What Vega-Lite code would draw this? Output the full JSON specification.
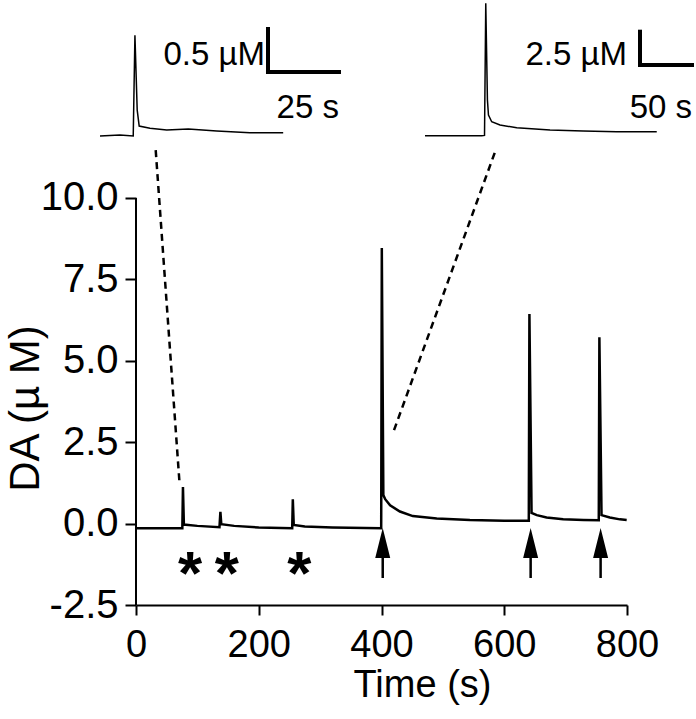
{
  "$schema": "https://vega.github.io/schema/vega-lite/v6.json",
  "width": 491,
  "height": 605,
  "autosize": {"type": "none"},
  "padding": {"left": 136, "top": 0, "right": 69, "bottom": 114},
  "background": "white",
  "config": {"view": {"stroke": null}, "font": "Liberation Sans"},
  "datasets": {
    "trace": [
      {"t": 0, "v": -0.14}, {"t": 40, "v": -0.14}, {"t": 75.5, "v": -0.14}, {"t": 76.5, "v": 1.12},
      {"t": 78, "v": -0.03}, {"t": 100, "v": -0.07}, {"t": 136, "v": -0.11}, {"t": 137.5, "v": 0.36},
      {"t": 139, "v": -0.02}, {"t": 160, "v": -0.07}, {"t": 200, "v": -0.12}, {"t": 254.5, "v": -0.14},
      {"t": 255.5, "v": 0.75}, {"t": 257, "v": -0.04}, {"t": 275, "v": -0.09}, {"t": 320, "v": -0.12},
      {"t": 399.5, "v": -0.14}, {"t": 400.5, "v": 8.46}, {"t": 403, "v": 0.88}, {"t": 406, "v": 0.75},
      {"t": 414, "v": 0.56}, {"t": 430, "v": 0.37}, {"t": 451, "v": 0.23}, {"t": 490, "v": 0.16},
      {"t": 544, "v": 0.11}, {"t": 600, "v": 0.09}, {"t": 640, "v": 0.09}, {"t": 641, "v": 6.44},
      {"t": 644.5, "v": 0.33}, {"t": 653, "v": 0.26}, {"t": 669, "v": 0.19}, {"t": 696, "v": 0.13},
      {"t": 729, "v": 0.11}, {"t": 754, "v": 0.1}, {"t": 755, "v": 5.72}, {"t": 758.5, "v": 0.26},
      {"t": 772, "v": 0.19}, {"t": 788.5, "v": 0.13}, {"t": 799.5, "v": 0.11}
    ],
    "yline": [{"t": 0, "v": -2.5, "v2": 10}],
    "dashed": [
      {"seg": "a", "t": 32.1, "v": 11.47}, {"seg": "a", "t": 70.9, "v": 1.25},
      {"seg": "b", "t": 420.4, "v": 2.87}, {"seg": "b", "t": 584.9, "v": 11.41}
    ],
    "stars": [{"t": 88, "v": -1.06, "s": "*"}, {"t": 148, "v": -1.06, "s": "*"}, {"t": 266, "v": -1.06, "s": "*"}],
    "arrows": [{"t": 402, "v": -0.9}, {"t": 643, "v": -0.9}, {"t": 757, "v": -0.9}],
    "inset1": [
      {"t": 0, "v": 0}, {"t": 7, "v": 0.01}, {"t": 11.7, "v": 0}, {"t": 12.3, "v": 1.17},
      {"t": 13.1, "v": 0.3}, {"t": 13.8, "v": 0.116}, {"t": 17.6, "v": 0.09}, {"t": 23.5, "v": 0.07},
      {"t": 31.1, "v": 0.08}, {"t": 41.1, "v": 0.058}, {"t": 52.8, "v": 0.038}, {"t": 64.5, "v": 0.038}
    ],
    "bar1": [
      {"t": 59.15, "v": 0.744, "t2": 59.15, "v2": 1.244},
      {"t": 59.15, "v": 0.744, "t2": 84.15, "v2": 0.744}
    ],
    "text1": [
      {"t": 58.1, "v": 0.826, "label": "0.5 µM"},
      {"t": 84.15, "v": 0.209, "label": "25 s"}
    ],
    "inset2": [
      {"t": 0, "v": 0}, {"t": 54.5, "v": 0}, {"t": 57.2, "v": 0.02}, {"t": 58.4, "v": 9.95},
      {"t": 60, "v": 2.68}, {"t": 61, "v": 1.55}, {"t": 64.1, "v": 1.05}, {"t": 72.1, "v": 0.8},
      {"t": 88.2, "v": 0.6}, {"t": 120.2, "v": 0.43}, {"t": 152, "v": 0.35}, {"t": 184.3, "v": 0.3},
      {"t": 222.8, "v": 0.3}
    ],
    "bar2": [
      {"t": 206.7, "v": 5.32, "t2": 206.7, "v2": 7.82},
      {"t": 206.7, "v": 5.32, "t2": 256.7, "v2": 5.32}
    ],
    "text2": [
      {"t": 194.2, "v": 5.32, "label": "2.5 µM"},
      {"t": 256.7, "v": 1.33, "label": "50 s"}
    ]
  },
  "layer": [
    {
      "layer": [
        {
          "data": {"name": "trace"},
          "mark": {"type": "line", "color": "black", "strokeWidth": 2.5},
          "encoding": {
            "x": {
              "field": "t", "type": "quantitative",
              "scale": {"domain": [0, 800], "nice": false, "zero": false},
              "axis": {
                "title": "Time (s)", "values": [0, 200, 400, 600, 800], "format": "d",
                "domain": true, "domainColor": "black", "domainWidth": 2,
                "ticks": true, "tickColor": "black", "tickWidth": 2, "tickSize": 10,
                "labelFontSize": 38, "labelColor": "black", "labelPadding": 11, "labelFont": "Liberation Sans",
                "labelFlush": false, "labelOverlap": false, "grid": false,
                "titleFontSize": 38, "titleFontWeight": "normal", "titleColor": "black", "titleFont": "Liberation Sans",
                "titleX": 286, "titleY": 91, "titleBaseline": "alphabetic", "titleAlign": "center"
              }
            },
            "y": {
              "field": "v", "type": "quantitative",
              "scale": {"domain": [-2.5, 16.08], "nice": false, "zero": false},
              "axis": {
                "title": "DA (µ M)", "values": [-2.5, 0, 2.5, 5, 7.5, 10],
                "labelExpr": "datum.value < 0 ? '-2.5' : format(datum.value, '.1f')",
                "domain": false, "ticks": true, "tickColor": "black", "tickWidth": 2, "tickSize": 11,
                "labelFontSize": 40, "labelColor": "black", "labelPadding": 7, "labelFont": "Liberation Sans",
                "labelOverlap": false, "labelFlush": false, "grid": false,
                "titleFontSize": 42, "titleFontWeight": "normal", "titleColor": "black", "titleFont": "Liberation Sans",
                "titleX": -98, "titleY": 408, "titleAngle": -90, "titleBaseline": "alphabetic", "titleAlign": "center"
              }
            }
          }
        },
        {
          "data": {"name": "yline"},
          "mark": {"type": "rule", "color": "black", "strokeWidth": 2},
          "encoding": {
            "x": {"field": "t", "type": "quantitative"},
            "y": {"field": "v", "type": "quantitative"},
            "y2": {"field": "v2"}
          }
        },
        {
          "data": {"name": "dashed"},
          "mark": {"type": "line", "color": "black", "strokeWidth": 2.5, "strokeDash": [7, 5]},
          "encoding": {
            "x": {"field": "t", "type": "quantitative"},
            "y": {"field": "v", "type": "quantitative"},
            "detail": {"field": "seg"}
          }
        },
        {
          "data": {"name": "stars"},
          "mark": {"type": "text", "fontSize": 62, "fontWeight": "bold", "font": "Liberation Sans", "color": "black", "baseline": "middle", "align": "center", "dy": 17},
          "encoding": {
            "x": {"field": "t", "type": "quantitative"},
            "y": {"field": "v", "type": "quantitative"},
            "text": {"field": "s"}
          }
        },
        {
          "data": {"name": "arrows"},
          "mark": {"type": "point", "shape": "M0,-1L-0.3,0.2L-0.05,0.2L-0.05,1L0.05,1L0.05,0.2L0.3,0.2Z", "filled": true, "color": "black", "opacity": 1, "size": 2500},
          "encoding": {
            "x": {"field": "t", "type": "quantitative"},
            "y": {"field": "v", "type": "quantitative"}
          }
        }
      ]
    },
    {
      "layer": [
        {
          "data": {"name": "inset1"},
          "mark": {"type": "line", "color": "black", "strokeWidth": 1.5},
          "encoding": {
            "x": {"field": "t", "type": "quantitative", "scale": {"domain": [12.676, 185.563], "nice": false, "zero": false}, "axis": null},
            "y": {"field": "v", "type": "quantitative", "scale": {"domain": [-5.453, 1.581], "nice": false, "zero": false}, "axis": null}
          }
        },
        {
          "data": {"name": "bar1"},
          "mark": {"type": "rule", "color": "black", "strokeWidth": 4, "strokeCap": "square"},
          "encoding": {
            "x": {"field": "t", "type": "quantitative", "axis": null},
            "y": {"field": "v", "type": "quantitative", "axis": null},
            "x2": {"field": "t2"},
            "y2": {"field": "v2"}
          }
        },
        {
          "data": {"name": "text1"},
          "mark": {"type": "text", "fontSize": 33, "font": "Liberation Sans", "color": "black", "align": "right", "baseline": "alphabetic"},
          "encoding": {
            "x": {"field": "t", "type": "quantitative", "axis": null},
            "y": {"field": "v", "type": "quantitative", "axis": null},
            "text": {"field": "label"}
          }
        }
      ]
    },
    {
      "layer": [
        {
          "data": {"name": "inset2"},
          "mark": {"type": "line", "color": "black", "strokeWidth": 1.5},
          "encoding": {
            "x": {"field": "t", "type": "quantitative", "scale": {"domain": [-277.9, 194.2], "nice": false, "zero": false}, "axis": null},
            "y": {"field": "v", "type": "quantitative", "scale": {"domain": [-35.286, 10.203], "nice": false, "zero": false}, "axis": null}
          }
        },
        {
          "data": {"name": "bar2"},
          "mark": {"type": "rule", "color": "black", "strokeWidth": 4, "strokeCap": "square"},
          "encoding": {
            "x": {"field": "t", "type": "quantitative", "axis": null},
            "y": {"field": "v", "type": "quantitative", "axis": null},
            "x2": {"field": "t2"},
            "y2": {"field": "v2"}
          }
        },
        {
          "data": {"name": "text2"},
          "mark": {"type": "text", "fontSize": 33, "font": "Liberation Sans", "color": "black", "align": "right", "baseline": "alphabetic"},
          "encoding": {
            "x": {"field": "t", "type": "quantitative", "axis": null},
            "y": {"field": "v", "type": "quantitative", "axis": null},
            "text": {"field": "label"}
          }
        }
      ]
    }
  ],
  "resolve": {"scale": {"x": "independent", "y": "independent"}}
}
